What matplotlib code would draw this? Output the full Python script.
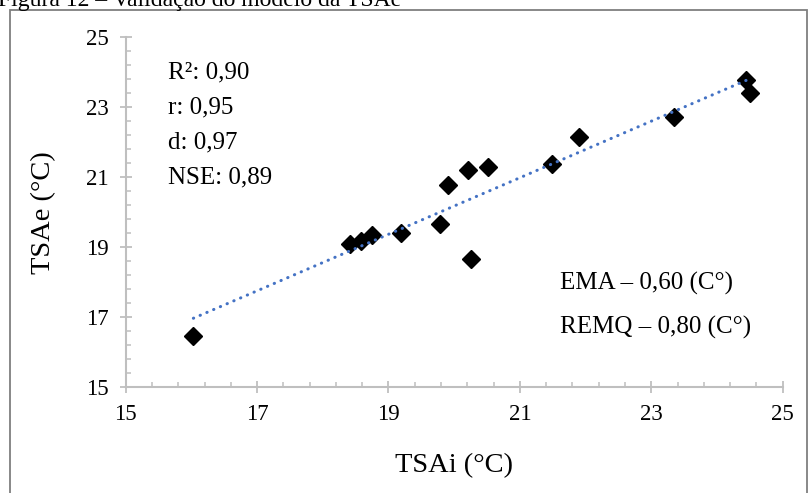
"""
Validação do modelo da TSAe - dispersão TSAi x TSAe com linha de tendência
"""
import matplotlib.pyplot as plt
from matplotlib.patches import Rectangle
from matplotlib.ticker import FixedLocator
import numpy as np

# TSA interpolada (observada) x TSA estimada pelo modelo
tsai = [16.03, 18.41, 18.58, 18.75, 19.19, 19.79, 19.91, 20.21, 20.26, 20.51,
        21.49, 21.90, 23.34, 24.44, 24.51]
tsae = [16.47, 19.09, 19.18, 19.36, 19.42, 19.67, 20.78, 21.21, 18.67, 21.30,
        21.38, 22.14, 22.73, 23.78, 23.42]
ticks = [15, 17, 19, 21, 23, 25]

stats = ['R²: 0,90', 'r: 0,95', 'd: 0,97', 'NSE: 0,89']
errors = ['EMA – 0,60 (C°)', 'REMQ – 0,80 (C°)']

C = {'axis': '#bfbfbf', 'frame': '#7f7f7f', 'trend': '#4472c4', 'pt': 'black'}

plt.rcParams.update({
    'font.family': ['Liberation Serif', 'DejaVu Serif'],
    'font.size': 15,
})

fig = plt.figure(figsize=(8.09, 4.93), dpi=100)
ax = fig.add_axes([0.1554, 0.2144, 0.812, 0.710])

# moldura da figura
fig.patches.append(Rectangle((10 / 809, -0.05), 797 / 809, 1.05 - 10 / 493,
                             transform=fig.transFigure, fill=False,
                             edgecolor=C['frame'], linewidth=1.3))
fig.text(-0.002, 1 - 6 / 493, 'Figura 12 – Validação do modelo da TSAe',
         fontsize=17, va='baseline', ha='left')

# linha de tendência linear
a, b = np.polyfit(tsai, tsae, 1)
xs = np.array([min(tsai), max(tsai)])
ax.plot(xs, a * xs + b, color=C['trend'], linewidth=2.2,
        dashes=(0.1, 2.3), dash_capstyle='round', zorder=3)
ax.plot(tsai, tsae, 'D', color=C['pt'], markersize=9, zorder=2)

ax.set_xlim(15, 25)
ax.set_ylim(15, 25)
minor = np.arange(15, 25.01, 0.4)
ax.xaxis.set_major_locator(FixedLocator(ticks))
ax.yaxis.set_major_locator(FixedLocator(ticks))
ax.xaxis.set_minor_locator(FixedLocator(minor))
ax.yaxis.set_minor_locator(FixedLocator(minor))
ax.tick_params(which='major', direction='inout', length=8, width=1.3,
               color=C['axis'], labelsize=16.5, pad=8)
ax.tick_params(which='minor', direction='in', length=3.5, width=1.1, color=C['axis'])
for s in ['top', 'right']:
    ax.spines[s].set_visible(False)
for s in ['left', 'bottom']:
    ax.spines[s].set_color(C['axis'])
    ax.spines[s].set_linewidth(1.5)

ax.set_xlabel('TSAi (°C)', fontsize=20.5, labelpad=20)
ax.set_ylabel('TSAe (°C)', fontsize=20.5, labelpad=22)

for t, y in zip(stats, [0.90, 0.80, 0.70, 0.60]):
    ax.text(0.064, y, t, transform=ax.transAxes, fontsize=18, va='center')
for t, y in zip(errors, [0.298, 0.172]):
    ax.text(0.661, y, t, transform=ax.transAxes, fontsize=18, va='center')

fig.savefig('out.png', dpi=100)
